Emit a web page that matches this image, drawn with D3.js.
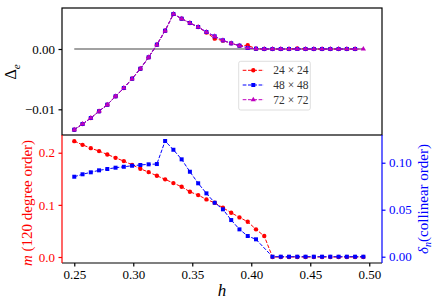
<!doctype html>
<html lang='en'>
<head>
    <meta charset='UTF-8'>
    <title>Delta_e and order parameters vs h</title>
    <script src='https://cdn.jsdelivr.net/npm/d3@7/dist/d3.min.js'></script>
    <style>
        body { margin: 0; background: #fff; }
    </style>
</head>
<body>
<div id='chart'></div>
<script>
    // field values h
    const H = [0.250, 0.257, 0.264, 0.271, 0.278, 0.285, 0.292, 0.299, 0.306, 0.313, 0.320, 0.327,
               0.334, 0.341, 0.348, 0.355, 0.362, 0.369, 0.376, 0.383, 0.390, 0.397, 0.404, 0.411,
               0.418, 0.425, 0.432, 0.439, 0.446, 0.453, 0.460, 0.467, 0.474, 0.481, 0.488, 0.495];

    // top panel: Delta_e for three lattice sizes
    const DE_24 = [-0.01338, -0.01244, -0.01144, -0.01033, -0.00923, -0.00785, -0.00647, -0.00492, -0.00327, -0.00138, 0.00072, 0.00304,
                   0.00580, 0.00503, 0.00431, 0.00365, 0.00272, 0.00172, 0.00138, 0.00094, 0.00055, 0.00062, 0.00005, 0,
                   0, 0, 0, 0.00008, 0, 0, 0, 0, 0, 0, 0];
    const DE_48 = [-0.01338, -0.01244, -0.01144, -0.01033, -0.00923, -0.00785, -0.00647, -0.00492, -0.00327, -0.00138, 0.00072, 0.00304,
                   0.00580, 0.00503, 0.00431, 0.00365, 0.00282, 0.00210, 0.00144, 0.00094, 0.00055, 0.00017, 0.00005, 0,
                   0, 0, 0, 0, 0, 0, 0, 0, 0, 0, 0];
    const DE_72 = [-0.01338, -0.01244, -0.01144, -0.01033, -0.00923, -0.00785, -0.00647, -0.00492, -0.00327, -0.00138, 0.00072, 0.00304,
                   0.00580, 0.00503, 0.00431, 0.00365, 0.00282, 0.00210, 0.00144, 0.00094, 0.00055, 0.00017, 0.00005, 0,
                   0, 0, 0, 0, 0, 0, 0, 0, 0, 0, 0, 0];

    // bottom panel: m (left axis) and delta_n (right axis)
    const M_120 = [0.2222, 0.2151, 0.2088, 0.2031, 0.1967, 0.1902, 0.1839, 0.1768, 0.1692, 0.1628, 0.1558, 0.1489,
                   0.1418, 0.1347, 0.1251, 0.1188, 0.1105, 0.1040, 0.0945, 0.0849, 0.0760, 0.0676, 0.0531, 0.0402,
                   0, 0, 0, 0, 0, 0, 0, 0, 0, 0, 0, 0];
    const DELTA_N = [0.0851, 0.0877, 0.0898, 0.0919, 0.0933, 0.0947, 0.0957, 0.0968, 0.0976, 0.0983, 0.0986, 0.1231,
                     0.1138, 0.1036, 0.0904, 0.0781, 0.0674, 0.0574, 0.0504, 0.0390, 0.0291, 0.0220, 0.0185, null,
                     0, 0, 0, 0, 0, 0, 0, 0, 0, 0, 0, 0];

    const TOP_TICKS = [-0.01, 0.00];
    const X_TICKS = [0.25, 0.30, 0.35, 0.40, 0.45, 0.50];
    const M_TICKS = [0.0, 0.1, 0.2];
    const D_TICKS = [0.00, 0.05, 0.10];
    const LEGEND = ['24 \u00d7 24', '48 \u00d7 48', '72 \u00d7 72'];

    const W = 436, HT = 304;
    const L = 62, R = 382, T1 = 8, MID = 135, B2 = 263;
    const RED = '#ff0000', BLUE = '#0000ff', MAG = '#bf00bf';
    const FONT = "'Liberation Serif', 'Times New Roman', serif";

    const svg = d3.select('#chart').append('svg')
        .attr('width', W).attr('height', HT)
        .style('font-family', FONT);

    const x = d3.scaleLinear().domain([0.2396, 0.5108]).range([L, R]);
    const yTop = d3.scaleLinear().domain([-0.01426, 0.0068]).range([MID, T1]);
    const yM = d3.scaleLinear().domain([-0.0115, 0.234]).range([B2, MID]);
    const yD = d3.scaleLinear().domain([-0.0067, 0.1295]).range([B2, MID]);

    function pairs(vals) {
        return vals.map(function (v, i) { return [H[i], v]; }).filter(function (p) { return p[1] !== null; });
    }

    function series(g, vals, ys, color, shape, size) {
        const pts = pairs(vals);
        const line = d3.line().x(function (d) { return x(d[0]); }).y(function (d) { return ys(d[1]); });
        g.append('path')
            .attr('d', line(pts))
            .attr('fill', 'none')
            .attr('stroke', color)
            .attr('stroke-width', 1)
            .attr('stroke-dasharray', '3.7,1.6');
        g.selectAll(null).data(pts).enter().append('path')
            .attr('d', d3.symbol().type(shape).size(size))
            .attr('transform', function (d) { return 'translate(' + x(d[0]) + ',' + ys(d[1]) + ')'; })
            .attr('fill', color);
    }

    function styleAxis(g, color) {
        g.attr('font-family', null).style('font-family', FONT);
        g.select('.domain').remove();
        g.selectAll('.tick line').attr('stroke', color).attr('stroke-width', 1.2);
        g.selectAll('.tick text').attr('fill', color)
            .style('font-size', '13px').style('font-family', FONT);
    }

    // ---- top panel ----
    const topG = svg.append('g');
    topG.append('line')
        .attr('x1', x(H[0])).attr('x2', x(H[H.length - 1]))
        .attr('y1', yTop(0)).attr('y2', yTop(0))
        .attr('stroke', '#444').attr('stroke-width', 1.2);
    series(topG, DE_24, yTop, RED, d3.symbolCircle, 15);
    series(topG, DE_48, yTop, BLUE, d3.symbolSquare, 16);
    series(topG, DE_72, yTop, MAG, d3.symbolTriangle, 12);

    const topAxis = topG.append('g').attr('transform', 'translate(' + L + ',0)')
        .call(d3.axisLeft(yTop).tickValues(TOP_TICKS).tickFormat(d3.format('.2f')).tickSize(3.5).tickPadding(3.5));
    styleAxis(topAxis, '#000');

    topG.append('rect')
        .attr('x', L).attr('y', T1).attr('width', R - L).attr('height', MID - T1)
        .attr('fill', 'none').attr('stroke', '#000').attr('stroke-width', 1.2);

    topG.append('text')
        .attr('transform', 'translate(16,72)rotate(-90)')
        .attr('text-anchor', 'middle')
        .style('font-size', '16px')
        .text('\u0394')
        .append('tspan').attr('dy', 4).style('font-size', '11px').style('font-style', 'italic').text('e');

    // legend
    const leg = topG.append('g');
    leg.append('rect')
        .attr('x', 238.7).attr('y', 61.3).attr('width', 71.6).attr('height', 48.7).attr('rx', 2)
        .attr('fill', '#fff').attr('fill-opacity', 0.8).attr('stroke', '#d6d6d6').attr('stroke-width', 0.8);
    const legColors = [RED, BLUE, MAG];
    const legShapes = [[d3.symbolCircle, 15], [d3.symbolSquare, 16], [d3.symbolTriangle, 12]];
    LEGEND.forEach(function (lab, i) {
        const ly = 70.3 + i * 14.7;
        leg.append('line').attr('x1', 242.7).attr('x2', 264).attr('y1', ly).attr('y2', ly)
            .attr('stroke', legColors[i]).attr('stroke-width', 1).attr('stroke-dasharray', '3.7,1.6');
        leg.append('path').attr('d', d3.symbol().type(legShapes[i][0]).size(legShapes[i][1]))
            .attr('transform', 'translate(253.3,' + ly + ')').attr('fill', legColors[i]);
        leg.append('text').attr('x', 273.3).attr('y', ly + 4)
            .style('font-size', '11.5px').attr('fill', '#333').text(lab);
    });

    // ---- bottom panel ----
    const bot = svg.append('g');
    series(bot, M_120, yM, RED, d3.symbolCircle, 15);
    series(bot, DELTA_N, yD, BLUE, d3.symbolSquare, 16);

    const xAxis = bot.append('g').attr('transform', 'translate(0,' + B2 + ')')
        .call(d3.axisBottom(x).tickValues(X_TICKS).tickFormat(d3.format('.2f')).tickSize(3.5).tickPadding(3.5));
    styleAxis(xAxis, '#000');
    const mAxis = bot.append('g').attr('transform', 'translate(' + L + ',0)')
        .call(d3.axisLeft(yM).tickValues(M_TICKS).tickFormat(d3.format('.1f')).tickSize(3.5).tickPadding(3.5));
    styleAxis(mAxis, RED);
    const dAxis = bot.append('g').attr('transform', 'translate(' + R + ',0)')
        .call(d3.axisRight(yD).tickValues(D_TICKS).tickFormat(d3.format('.2f')).tickSize(3.5).tickPadding(3.5));
    styleAxis(dAxis, BLUE);

    // spines
    bot.append('line').attr('x1', L).attr('x2', R).attr('y1', B2).attr('y2', B2).attr('stroke', '#000').attr('stroke-width', 1.2);
    bot.append('line').attr('x1', L).attr('x2', L).attr('y1', MID).attr('y2', B2).attr('stroke', RED).attr('stroke-width', 1.2);
    bot.append('line').attr('x1', R).attr('x2', R).attr('y1', MID).attr('y2', B2).attr('stroke', BLUE).attr('stroke-width', 1.2);

    // axis labels
    bot.append('text')
        .attr('x', (L + R) / 2).attr('y', 296)
        .attr('text-anchor', 'middle')
        .style('font-size', '17px').style('font-style', 'italic')
        .text('h');

    const mLab = bot.append('text')
        .attr('transform', 'translate(32,203)rotate(-90)')
        .attr('text-anchor', 'middle')
        .attr('fill', RED)
        .style('font-size', '15px');
    mLab.append('tspan').style('font-style', 'italic').text('m');
    mLab.append('tspan').text(' (120 degree order)');

    const dLab = bot.append('text')
        .attr('transform', 'translate(428,199)rotate(-90)')
        .attr('text-anchor', 'middle')
        .attr('fill', BLUE)
        .style('font-size', '15px');
    dLab.append('tspan').style('font-style', 'italic').text('\u03b4');
    dLab.append('tspan').attr('dy', 3).style('font-size', '10px').style('font-style', 'italic').text('n');
    dLab.append('tspan').attr('dy', -3).text('(collinear order)');
</script>
</body>
</html>
